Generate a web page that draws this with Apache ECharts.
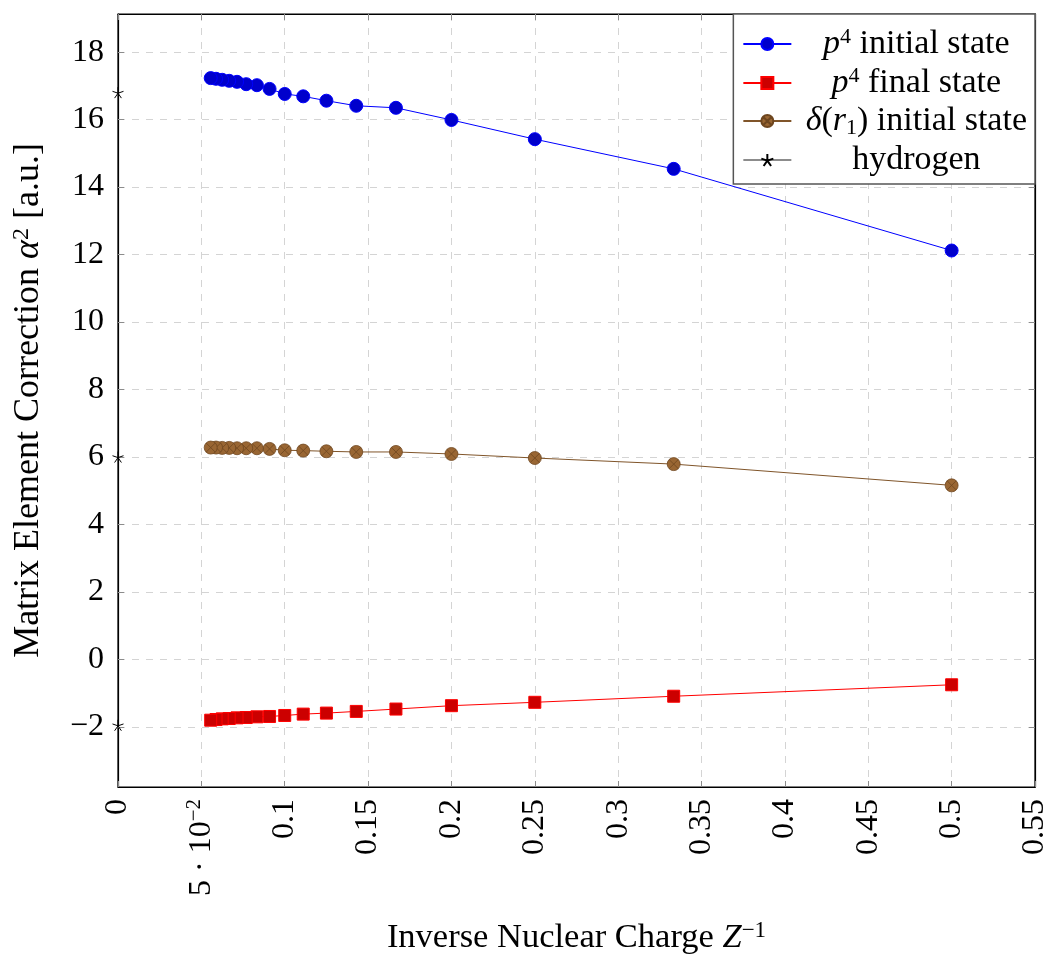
<!DOCTYPE html>
<html>
<head>
<meta charset="utf-8">
<title>Matrix element corrections vs inverse nuclear charge</title>
<script src="https://cdn.jsdelivr.net/npm/echarts@6/dist/echarts.min.js"></script>
<style>
  html, body { margin: 0; padding: 0; background: #fff; }
  #chart { width: 1050px; height: 954px; }
</style>
</head>
<body>
<div id="chart"></div>
<script>
// Inverse nuclear charge 1/Z for Z = 2 ... 18
const invZ = [0.5, 0.3333, 0.25, 0.2, 0.1667, 0.1429, 0.125, 0.1111, 0.1, 0.0909,
              0.0833, 0.0769, 0.0714, 0.0667, 0.0625, 0.0588, 0.0556];

// Matrix element corrections (alpha^2, atomic units)
const p4Initial = [12.12, 14.54, 15.42, 15.99, 16.35, 16.41, 16.56, 16.69, 16.76, 16.91,
                   17.02, 17.05, 17.12, 17.15, 17.18, 17.21, 17.23];
const p4Final = [-0.75, -1.09, -1.27, -1.37, -1.47, -1.54, -1.59, -1.62, -1.66, -1.69,
                 -1.70, -1.72, -1.73, -1.75, -1.76, -1.78, -1.80];
const deltaInitial = [5.16, 5.79, 5.97, 6.09, 6.15, 6.15, 6.17, 6.19, 6.20, 6.24,
                      6.26, 6.26, 6.26, 6.27, 6.27, 6.28, 6.28];

// Hydrogen reference values at 1/Z = 0
const hydrogenX = [0, 0, 0];
const hydrogenY = [16.8, 6.0, -1.95];

// Axis ticks
const xTickLabels = ['0', '5 · 10{sup|−2}', '0.1', '0.15', '0.2', '0.25', '0.3',
                     '0.35', '0.4', '0.45', '0.5', '0.55'];
const yTickValues = [-2, 0, 2, 4, 6, 8, 10, 12, 14, 16, 18];
const yTickLabels = ['−2', '0', '2', '4', '6', '8', '10', '12', '14', '16', '18'];

// Series names and their rich-text legend labels
const seriesNames = ['p4 initial state', 'p4 final state', 'delta(r1) initial state', 'hydrogen'];
const legendLabels = {
  'p4 initial state': '{i|p}{sup|4}{t| initial state}',
  'p4 final state': '{i|p}{sup|4}{t| final state}',
  'delta(r1) initial state': '{i|δ}{t|(}{i|r}{sub|1}{t|) initial state}',
  'hydrogen': '{t|hydrogen}'
};

const FONT = 'Liberation Serif';
const TICK_FS = 32;

const pair = (xs, ys) => xs.map((x, i) => [x, ys[i]]);

const otimesPath = 'path://M1,0A1,1,0,1,1,-1,0A1,1,0,1,1,1,0Z' +
  'M-0.707,-0.707L0.707,0.707M-0.707,0.707L0.707,-0.707';
const starPath = 'path://M0,0L0,-1M0,0L0.951,-0.309M0,0L0.588,0.809' +
  'M0,0L-0.588,0.809M0,0L-0.951,-0.309';

const gridDash = { show: true, lineStyle: { color: '#d4d4d4', width: 1, type: [7, 7] } };
const tickStyle = { show: true, inside: true, length: 6, lineStyle: { color: '#8c8c8c', width: 1 } };
const axisLineStyle = { show: true, onZero: false, lineStyle: { color: '#000', width: 1.2 } };

// Rich text styles: upright, italic (math), superscript and subscript
function makeRich(fs) {
  const lh = Math.round(fs * 1.06);
  const small = Math.round(fs * 0.66);
  return {
    t: { fontFamily: FONT, fontSize: fs, lineHeight: lh, color: '#000', align: 'center' },
    i: { fontFamily: FONT, fontSize: fs, fontStyle: 'italic', lineHeight: lh, color: '#000', align: 'center' },
    sup: { fontFamily: FONT, fontSize: small, lineHeight: Math.round(small * 0.8), verticalAlign: 'top', color: '#000', align: 'center' },
    sub: { fontFamily: FONT, fontSize: small, lineHeight: Math.round(small * 0.85), verticalAlign: 'bottom', color: '#000', align: 'center' }
  };
}

const chart = echarts.init(document.getElementById('chart'), null, { renderer: 'canvas' });

chart.setOption({
  animation: false,
  backgroundColor: '#fff',
  grid: {
    left: 118, right: 15, top: 14, bottom: 167,
    show: true, borderColor: '#000', borderWidth: 1.2,
    outerBoundsMode: 'none'
  },
  legend: {
    orient: 'vertical',
    right: 15, top: 14,
    padding: [12, 8, 7, 9],
    itemGap: 4,
    itemWidth: 48, itemHeight: 15,
    backgroundColor: '#fff',
    borderColor: '#555', borderWidth: 1.5, borderRadius: 0,
    data: [
      { name: seriesNames[0] },
      { name: seriesNames[1] },
      { name: seriesNames[2] },
      { name: seriesNames[3], lineStyle: { color: '#666', width: 1.5, opacity: 1 } }
    ],
    formatter: name => legendLabels[name],
    textStyle: { fontFamily: FONT, fontSize: 34, color: '#000', width: 240, rich: makeRich(34) }
  },
  xAxis: [
    {
      type: 'value', position: 'bottom', min: 0, max: 0.55, interval: 0.05,
      axisLine: axisLineStyle, axisTick: tickStyle, splitLine: gridDash,
      axisLabel: {
        rotate: 90, margin: 12, fontFamily: FONT, fontSize: TICK_FS, color: '#000',
        lineHeight: 34,
        formatter: v => xTickLabels[Math.round(v / 0.05)],
        rich: { sup: makeRich(TICK_FS).sup }
      },
      name: '{t|Inverse Nuclear Charge }{i|Z}{sup|−1}',
      nameLocation: 'middle', nameGap: 132,
      nameTextStyle: { rich: makeRich(34.5) }
    },
    {
      type: 'value', position: 'top', min: 0, max: 0.55, interval: 0.05,
      axisLine: axisLineStyle, axisTick: tickStyle,
      axisLabel: { show: false }, splitLine: { show: false }
    }
  ],
  yAxis: [
    {
      type: 'value', position: 'left', min: -3.78, max: 19.13,
      axisLine: axisLineStyle,
      axisTick: Object.assign({}, tickStyle, { customValues: yTickValues }),
      splitLine: gridDash,
      axisLabel: {
        customValues: yTickValues, margin: 14,
        fontFamily: FONT, fontSize: TICK_FS, color: '#000',
        formatter: v => yTickLabels[yTickValues.indexOf(Math.round(v))]
      },
      name: '{t|Matrix Element Correction }{i|α}{sup|2}{t| [a.u.]}',
      nameLocation: 'middle', nameGap: 70,
      nameTextStyle: { rich: makeRich(36) }
    },
    {
      type: 'value', position: 'right', min: -3.78, max: 19.13,
      axisLine: axisLineStyle,
      axisTick: Object.assign({}, tickStyle, { customValues: yTickValues }),
      axisLabel: { show: false }, splitLine: { show: false }
    }
  ],
  series: [
    {
      name: seriesNames[0], type: 'line', data: pair(invZ, p4Initial),
      symbol: 'circle', symbolSize: 13,
      lineStyle: { color: '#0000ff', width: 1 },
      itemStyle: { color: '#0000cc', borderColor: '#0000ff', borderWidth: 1 }
    },
    {
      name: seriesNames[1], type: 'line', data: pair(invZ, p4Final),
      symbol: 'rect', symbolSize: 12,
      lineStyle: { color: '#ff0000', width: 1 },
      itemStyle: { color: '#cc0000', borderColor: '#ff0000', borderWidth: 1 }
    },
    {
      name: seriesNames[2], type: 'line', data: pair(invZ, deltaInitial),
      symbol: otimesPath, symbolSize: 13,
      lineStyle: { color: '#80552a', width: 1 },
      itemStyle: { color: '#996633', borderColor: '#6e461f', borderWidth: 0.8 }
    },
    {
      name: seriesNames[3], type: 'line', data: pair(hydrogenX, hydrogenY),
      symbol: starPath, symbolSize: 11,
      lineStyle: { color: '#666', width: 1, opacity: 0 },
      itemStyle: { color: '#000', borderColor: '#000', borderWidth: 1 },
      z: 5
    }
  ]
});
</script>
</body>
</html>
